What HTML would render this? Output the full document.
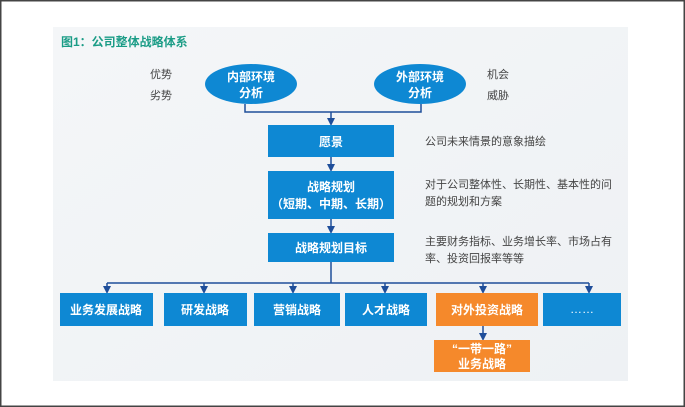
<!DOCTYPE html>
<html><head><meta charset="utf-8"><style>
html,body{margin:0;padding:0;background:#fff}
svg{display:block}
text{font-family:"Liberation Sans","Noto Sans CJK SC",sans-serif}
</style></head><body>
<svg width="685" height="407" viewBox="0 0 685 407" xmlns="http://www.w3.org/2000/svg">
<defs>
<marker id="a" markerWidth="8" markerHeight="8" refX="4" refY="4" orient="auto" markerUnits="userSpaceOnUse">
<path d="M0,0 L8,4 L0,8 z" fill="#1f4e9a"/></marker>
<linearGradient id="bg" x1="0" y1="0" x2="1" y2="1"><stop offset="0" stop-color="#f4f6f8"/><stop offset="1" stop-color="#eef1f4"/></linearGradient>
</defs>
<rect x="0.5" y="0.5" width="684" height="406" fill="#fff" stroke="#444" stroke-width="2"/>
<rect x="53" y="27" width="575" height="354" fill="url(#bg)"/>
<text x="61" y="46" font-size="12" font-weight="bold" fill="#1a9c86">图1：公司整体战略体系</text>
<g font-size="11" fill="#444">
<text x="150" y="78">优势</text><text x="150" y="99">劣势</text>
<text x="487" y="78">机会</text><text x="487" y="99">威胁</text>
<text x="425" y="145">公司未来情景的意象描绘</text>
<text x="425" y="188">对于公司整体性、长期性、基本性的问</text>
<text x="425" y="205">题的规划和方案</text>
<text x="425" y="245">主要财务指标、业务增长率、市场占有</text>
<text x="425" y="262">率、投资回报率等等</text>
</g>
<g stroke="#1f4e9a" stroke-width="1.5" fill="none">
<polyline points="245,104 245,112 421,112 421,104"/>
<line x1="331" y1="112" x2="331" y2="122" marker-end="url(#a)"/>
<line x1="331" y1="157" x2="331" y2="168" marker-end="url(#a)"/>
<line x1="331" y1="219" x2="331" y2="230" marker-end="url(#a)"/>
<line x1="331" y1="262" x2="331" y2="283"/>
<line x1="107" y1="283" x2="589" y2="283"/>
<line x1="107" y1="283" x2="107" y2="290" marker-end="url(#a)"/>
<line x1="204" y1="283" x2="204" y2="290" marker-end="url(#a)"/>
<line x1="293" y1="283" x2="293" y2="290" marker-end="url(#a)"/>
<line x1="385" y1="283" x2="385" y2="290" marker-end="url(#a)"/>
<line x1="483" y1="283" x2="483" y2="290" marker-end="url(#a)"/>
<line x1="589" y1="283" x2="589" y2="290" marker-end="url(#a)"/>
<line x1="483" y1="326" x2="483" y2="337" marker-end="url(#a)"/>
</g>
<ellipse cx="251" cy="84" rx="46" ry="20" fill="#0e88d3"/>
<ellipse cx="420" cy="84" rx="46" ry="20" fill="#0e88d3"/>
<g fill="#0e88d3">
<rect x="268" y="125" width="126" height="32"/>
<rect x="268" y="171" width="126" height="48"/>
<rect x="268" y="233" width="126" height="29"/>
<rect x="60" y="293" width="93" height="33"/>
<rect x="164" y="293" width="83" height="33"/>
<rect x="254" y="293" width="86" height="33"/>
<rect x="345" y="293" width="82" height="33"/>
<rect x="543" y="293" width="78" height="33"/>
</g>
<rect x="436" y="293" width="102" height="33" fill="#f5892b"/>
<rect x="434" y="340" width="96" height="32" fill="#f5892b"/>
<g font-size="12" font-weight="bold" fill="#fff" text-anchor="middle">
<text x="251" y="81">内部环境</text><text x="251" y="97">分析</text>
<text x="420" y="81">外部环境</text><text x="420" y="97">分析</text>
<text x="331" y="146">愿景</text>
<text x="331" y="191">战略规划</text><text x="331" y="208">（短期、中期、长期）</text>
<text x="331" y="252">战略规划目标</text>
<text x="106" y="314">业务发展战略</text>
<text x="205" y="314">研发战略</text>
<text x="297" y="314">营销战略</text>
<text x="386" y="314">人才战略</text>
<text x="487" y="314">对外投资战略</text>
<text x="582" y="313" font-weight="normal">……</text>
<text x="482" y="353">“一带一路”</text>
<text x="482" y="368">业务战略</text>
</g>
</svg>
</body></html>
